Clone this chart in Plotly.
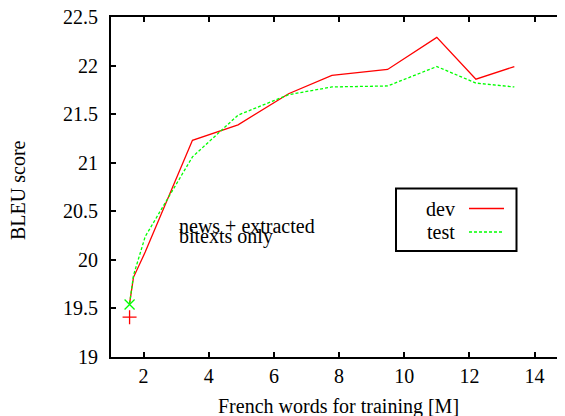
import plotly.graph_objects as go

# Data
words_m = [1.57, 1.69, 2.05, 3.50, 4.90, 6.45, 7.78, 9.49, 11.0, 12.2, 13.38]
dev_bleu = [19.55, 19.82, 20.08, 21.23, 21.39, 21.71, 21.90, 21.96, 22.29, 21.86, 21.99]
test_bleu = [19.55, 19.84, 20.24, 21.06, 21.49, 21.70, 21.78, 21.79, 21.99, 21.82, 21.78]

baseline_x = [1.57]
baseline_dev = [19.41]
baseline_test = [19.54]

x_ticks = [2, 4, 6, 8, 10, 12, 14]
y_ticks = [19, 19.5, 20, 20.5, 21, 21.5, 22, 22.5]
y_ticklabels = ["19", "19.5", "20", "20.5", "21", "21.5", "22", "22.5"]

RED = "#ff0000"
GREEN = "#00ff00"
FONT = "Liberation Serif"
FS = 20

# page body has an 8px margin: compensate so the drawing lands where the reference has it
OFF = 8
L, T, B = 111 - OFF, 17 - OFF, 416 - (357 - OFF)
W = 565 - L          # plot width with r=0
XMIN = 1.0
PPU = 32.58          # pixels per x unit seen in the reference
XMAX = XMIN + W / PPU

fig = go.Figure()
fig.add_trace(go.Scatter(x=words_m, y=dev_bleu, mode="lines",
                         line=dict(color=RED, width=1.3), name="dev"))
fig.add_trace(go.Scatter(x=words_m, y=test_bleu, mode="lines",
                         line=dict(color=GREEN, width=1.3, dash="3px,2px"), name="test"))
fig.add_trace(go.Scatter(x=baseline_x, y=baseline_dev, mode="markers",
                         marker=dict(symbol="cross-thin", size=10,
                                     line=dict(color=RED, width=1.3))))
fig.add_trace(go.Scatter(x=baseline_x, y=baseline_test, mode="markers",
                         marker=dict(symbol="x-thin", size=10,
                                     line=dict(color=GREEN, width=1.3))))
# invisible trace to anchor mirror axes
fig.add_trace(go.Scatter(x=baseline_x, y=baseline_test, xaxis="x2", yaxis="y2",
                         mode="markers", marker=dict(opacity=0), hoverinfo="skip"))

tickfont = dict(family=FONT, size=FS, color="black")
common = dict(ticks="inside", ticklen=5, tickwidth=2, tickcolor="black",
              showgrid=False, zeroline=False, automargin=False)

right_frame = (15 - XMIN) / (XMAX - XMIN)

fig.update_layout(
    width=565, height=416,
    margin=dict(l=L, r=0, t=T, b=B),
    paper_bgcolor="white", plot_bgcolor="white",
    showlegend=False,
    xaxis=dict(range=[XMIN, XMAX], tickvals=x_ticks, tickfont=tickfont,
               showline=True, linewidth=2, linecolor="black",
               ticklabeloverflow="allow", **common),
    yaxis=dict(range=[19, 22.5], tickvals=y_ticks, ticktext=y_ticklabels,
               tickfont=tickfont, showline=True, linewidth=2, linecolor="black",
               ticklabelstandoff=7, ticklabeloverflow="allow", **common),
    xaxis2=dict(overlaying="x", side="top", matches="x", anchor="y2",
                tickvals=x_ticks, showticklabels=False,
                showline=True, linewidth=2, linecolor="black", **common),
    yaxis2=dict(overlaying="y", side="right", matches="y", anchor="free",
                position=right_frame, tickvals=y_ticks, showticklabels=False,
                showline=False, **common),
)

def px_x(p):
    return (p - OFF - L) / W

def px_y(p):
    return ((357 - OFF) - (p - OFF)) / 340.0

# Axis titles
fig.add_annotation(xref="paper", yref="paper", x=px_x(338), y=px_y(406),
                   text="French words for training [M]", showarrow=False,
                   xanchor="center", yanchor="middle",
                   font=dict(family=FONT, size=FS, color="black"))
fig.add_annotation(xref="paper", yref="paper", x=px_x(18), y=px_y(190),
                   text="BLEU score", showarrow=False, textangle=-90,
                   xanchor="center", yanchor="middle",
                   font=dict(family=FONT, size=FS, color="black"))

# Text labels
fig.add_annotation(x=3.02, y=20.35, text="news + extracted", showarrow=False,
                   xanchor="left", yanchor="middle",
                   font=dict(family=FONT, size=FS, color="black"))
fig.add_annotation(x=3.02, y=20.24, text="bitexts only", showarrow=False,
                   xanchor="left", yanchor="middle",
                   font=dict(family=FONT, size=FS, color="black"))

# Legend (drawn manually, gnuplot style: label left, sample right)
fig.add_shape(type="rect", xref="paper", yref="paper",
              x0=px_x(396), x1=px_x(516.5), y0=px_y(251), y1=px_y(188.5),
              line=dict(color="black", width=2), fillcolor="white", layer="above")
for label, color, dash, ypix in [("dev", RED, "solid", 208.5), ("test", GREEN, "3px,2px", 232)]:
    fig.add_shape(type="line", xref="paper", yref="paper",
                  x0=px_x(469), x1=px_x(504), y0=px_y(ypix), y1=px_y(ypix),
                  line=dict(color=color, width=1.3, dash=dash), layer="above")
    fig.add_annotation(xref="paper", yref="paper", x=px_x(457), y=px_y(ypix),
                       text=label, showarrow=False, xanchor="right", yanchor="middle",
                       font=dict(family=FONT, size=FS, color="black"))

fig.write_html("out.html")
